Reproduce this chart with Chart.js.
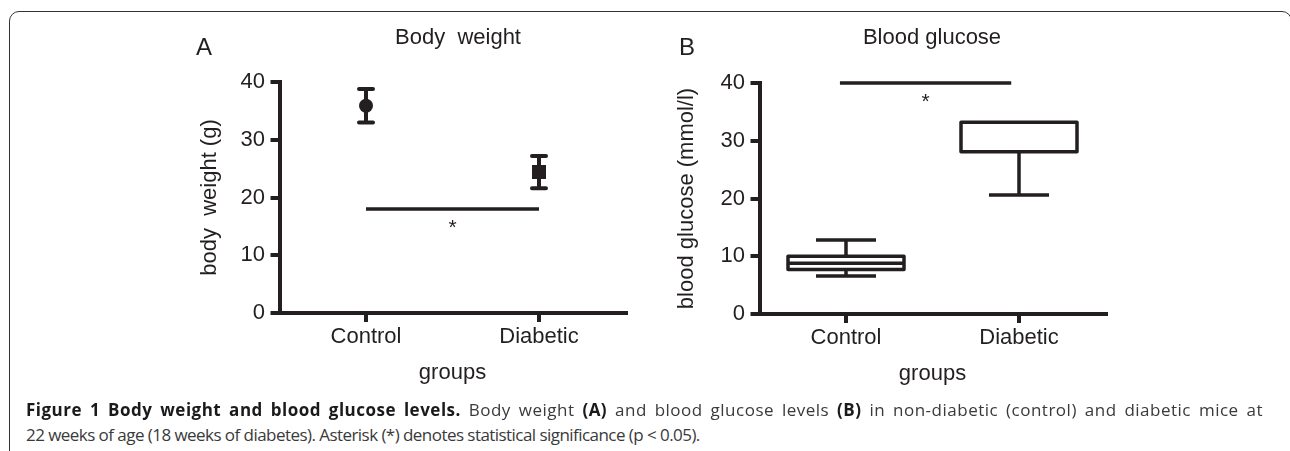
<!DOCTYPE html>
<html>
<head>
<meta charset="utf-8">
<script src="https://cdn.jsdelivr.net/npm/chart.js@4.4.0/dist/chart.umd.min.js"></script>
<style>
    body {
        margin: 0;
        width: 1290px;
        height: 451px;
        overflow: hidden;
        position: relative;
        background: #fff;
    }
    #frame {
        position: absolute;
        left: 9px;
        top: 11px;
        width: 1283px;
        height: 500px;
        border: 1.3px solid #333;
        border-radius: 10px;
        box-sizing: border-box;
    }
    canvas { position: absolute; }
    #chartA { left: 180px; top: 0; }
    #chartB { left: 660px; top: 1px; }
    .cap {
        position: absolute;
        left: 26px;
        font-family: "Open Sans", sans-serif;
        font-size: 17px;
        letter-spacing: -0.55px;
        line-height: 25px;
        color: #3a3a3a;
        white-space: nowrap;
    }
    .cap b { color: #1a1a1a; }
    #cap1 {
        top: 397px;
        width: 1237px;
        letter-spacing: 0.5px;
        white-space: normal;
        text-align: justify;
        text-align-last: justify;
    }
    #cap2 { top: 422px; }
</style>
</head>
<body>
<div id="frame"></div>
<canvas id="chartA" width="460" height="400"></canvas>
<canvas id="chartB" width="460" height="400"></canvas>
<div class="cap" id="cap1"><b>Figure 1 Body weight and blood glucose levels.</b> Body weight <b>(A)</b> and blood glucose levels <b>(B)</b> in non-diabetic (control) and diabetic mice at</div>
<div class="cap" id="cap2">22 weeks of age (18 weeks of diabetes). Asterisk (*) denotes statistical significance (p &lt; 0.05).</div>

<script>
// -----------------------------
// Données
// -----------------------------
const groups = ["Control", "Diabetic"];
const groupPos = [1, 3];
const yTicks = [0, 10, 20, 30, 40];

// A : poids (moyenne ± erreur)
const weightMean = [35.9, 24.4];
const weightErr = [2.9, 2.8];
const weightSigX = [1, 3];
const weightSigY = 18;

// B : glycémie (boîtes)
const glucoseMin = [6.6, 20.6];
const glucoseQ1 = [7.7, 28.1];
const glucoseMedian = [8.8, 28.1];
const glucoseQ3 = [10.0, 33.2];
const glucoseMax = [12.8, 33.2];
const glucoseSigX = [0.93, 2.91];
const glucoseSigY = 40;

const INK = "#231f20";
const FONT = '"Liberation Sans", Arial, sans-serif';


// -----------------------------
// Axes communs
// -----------------------------
function makeScales(yTitle, yTitlePad) {
    const grid = { drawOnChartArea: false, tickLength: 9, lineWidth: 4, color: INK };
    const border = { width: 4, color: INK };
    const font = { size: 22, family: FONT };

    return {
        x: {
            type: "linear",
            min: 0,
            max: 4,
            afterBuildTicks: s => { s.ticks = groupPos.map(v => ({ value: v })); },
            afterFit: s => { s.height = 80; },
            ticks: {
                callback: v => groups[groupPos.indexOf(v)],
                color: INK, font: font, padding: 2,
                maxRotation: 0, autoSkip: false
            },
            grid: grid,
            border: border,
            title: {
                display: true, text: "groups", color: INK, font: font,
                padding: { top: 0, bottom: 7 }
            }
        },
        y: {
            type: "linear",
            min: 0,
            max: 40,
            afterBuildTicks: s => { s.ticks = yTicks.map(v => ({ value: v })); },
            afterFit: s => { s.width = 99.5; },
            ticks: { color: INK, font: font, padding: 5.5 },
            grid: grid,
            border: border,
            title: {
                display: true, text: yTitle, color: INK, font: font,
                padding: { top: yTitlePad, bottom: 0 }
            }
        }
    };
}

// lettre, titre et astérisque
function panelText(letter, letterX, letterY, title, titleX, titleY, sigX, sigY) {
    return {
        id: "panelText",
        afterDraw(chart) {
            const { ctx, scales: { x, y } } = chart;
            ctx.save();
            ctx.fillStyle = INK;
            ctx.textAlign = "center";
            ctx.textBaseline = "alphabetic";
            ctx.font = "24px " + FONT;
            ctx.fillText(letter, letterX, letterY);
            ctx.font = "22px " + FONT;
            ctx.fillText(title, titleX, titleY);

            const mid = (x.getPixelForValue(sigX[0]) + x.getPixelForValue(sigX[1])) / 2;
            ctx.font = "21px " + FONT;
            ctx.textBaseline = "middle";
            ctx.fillText("*", mid, y.getPixelForValue(sigY) + 19.5);
            ctx.restore();
        }
    };
}

function sigLine(sx, sy) {
    return {
        type: "line",
        data: sx.map(v => ({ x: v, y: sy })),
        borderColor: INK,
        borderWidth: 3.5,
        pointRadius: 0,
        showLine: true,
        clip: false
    };
}

const baseOptions = {
    responsive: false,
    animation: false,
    devicePixelRatio: 1,
    layout: { padding: { left: 0, right: 14.5, top: 82, bottom: 7 } },
    plugins: { legend: { display: false }, tooltip: { enabled: false } }
};


// -----------------------------
// A — Body weight
// -----------------------------
const errorBars = {
    id: "errorBars",
    beforeDatasetsDraw(chart) {
        const { ctx, scales: { x, y } } = chart;
        ctx.save();
        ctx.strokeStyle = INK;
        ctx.lineWidth = 4;
        ctx.lineCap = "round";
        weightMean.forEach((m, i) => {
            const px = x.getPixelForValue(groupPos[i]);
            const top = y.getPixelForValue(m + weightErr[i]);
            const bot = y.getPixelForValue(m - weightErr[i]);
            ctx.beginPath();
            ctx.moveTo(px, top); ctx.lineTo(px, bot);
            ctx.moveTo(px - 7, top); ctx.lineTo(px + 7, top);
            ctx.moveTo(px - 7, bot); ctx.lineTo(px + 7, bot);
            ctx.stroke();
        });
        ctx.restore();
    }
};

new Chart(document.getElementById("chartA"), {
    type: "scatter",
    data: {
        datasets: [
            {
                data: groupPos.map((v, i) => ({ x: v, y: weightMean[i] })),
                pointStyle: ["circle", "rect"],
                pointRadius: [7, 9.9],
                backgroundColor: INK,
                borderWidth: 0
            },
            sigLine(weightSigX, weightSigY)
        ]
    },
    options: Object.assign({}, baseOptions, { scales: makeScales("body  weight (g)", 17) }),
    plugins: [errorBars, panelText("A", 24, 55, "Body  weight", 278, 44, weightSigX, weightSigY)]
});


// -----------------------------
// B — Blood glucose
// -----------------------------
const boxes = {
    id: "boxes",
    afterDatasetsDraw(chart) {
        const { ctx, scales: { x, y } } = chart;
        const half = 58, cap = 30;
        ctx.save();
        ctx.strokeStyle = INK;
        ctx.lineWidth = 3.5;
        ctx.lineJoin = "round";
        groupPos.forEach((g, i) => {
            const px = x.getPixelForValue(g);
            const q1 = y.getPixelForValue(glucoseQ1[i]);
            const q3 = y.getPixelForValue(glucoseQ3[i]);
            const md = y.getPixelForValue(glucoseMedian[i]);
            const lo = y.getPixelForValue(glucoseMin[i]);
            const hi = y.getPixelForValue(glucoseMax[i]);
            ctx.beginPath();
            ctx.rect(px - half, q3, half * 2, q1 - q3);
            ctx.moveTo(px - half, md); ctx.lineTo(px + half, md);
            if (hi < q3) {
                ctx.moveTo(px, q3); ctx.lineTo(px, hi);
                ctx.moveTo(px - cap, hi); ctx.lineTo(px + cap, hi);
            }
            if (lo > q1) {
                ctx.moveTo(px, q1); ctx.lineTo(px, lo);
                ctx.moveTo(px - cap, lo); ctx.lineTo(px + cap, lo);
            }
            ctx.stroke();
        });
        ctx.restore();
    }
};

new Chart(document.getElementById("chartB"), {
    type: "scatter",
    data: {
        datasets: [sigLine(glucoseSigX, glucoseSigY)]
    },
    options: Object.assign({}, baseOptions, { scales: makeScales("blood glucose (mmol/l)", 14) }),
    plugins: [boxes, panelText("B", 27, 54, "Blood glucose", 272, 43, glucoseSigX, glucoseSigY)]
});
</script>
</body>
</html>
